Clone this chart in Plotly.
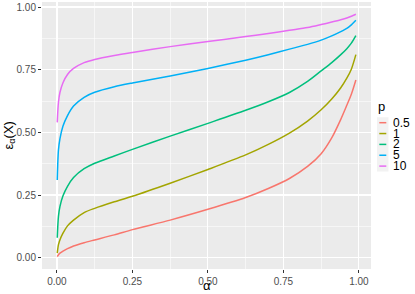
import plotly.graph_objects as go

# ---- data ----
alpha = [0.001, 0.005, 0.01, 0.02, 0.035, 0.055, 0.09, 0.125, 0.19, 0.25, 0.375,
         0.5, 0.625, 0.7, 0.77, 0.83, 0.875, 0.91, 0.94, 0.96, 0.975, 0.99]

p_labels = ["0.5", "1", "2", "5", "10"]

eps_p05 = [0.004, 0.012, 0.018, 0.026, 0.036, 0.047, 0.060, 0.071, 0.091, 0.112, 0.150,
           0.193, 0.240, 0.276, 0.316, 0.364, 0.415, 0.478, 0.552, 0.608, 0.652, 0.709]
eps_p1 = [0.018, 0.052, 0.072, 0.098, 0.127, 0.150, 0.180, 0.197, 0.223, 0.245, 0.297,
          0.352, 0.410, 0.452, 0.497, 0.545, 0.590, 0.633, 0.678, 0.716, 0.752, 0.810]
eps_p2 = [0.080, 0.165, 0.205, 0.247, 0.285, 0.320, 0.355, 0.377, 0.406, 0.432, 0.485,
          0.536, 0.588, 0.622, 0.659, 0.703, 0.745, 0.778, 0.810, 0.834, 0.856, 0.886]
eps_p5 = [0.310, 0.430, 0.475, 0.525, 0.567, 0.605, 0.640, 0.660, 0.682, 0.697, 0.725,
          0.755, 0.788, 0.810, 0.832, 0.851, 0.868, 0.885, 0.902, 0.915, 0.929, 0.947]
eps_p10 = [0.540, 0.620, 0.660, 0.698, 0.731, 0.755, 0.778, 0.791, 0.807, 0.819, 0.842,
           0.862, 0.882, 0.894, 0.907, 0.918, 0.930, 0.940, 0.949, 0.956, 0.963, 0.971]

series = [eps_p05, eps_p1, eps_p2, eps_p5, eps_p10]
colors = ["#F8766D", "#A3A500", "#00BF7D", "#00B0F6", "#E76BF3"]

tick_vals = [0, 0.25, 0.5, 0.75, 1.0]
tick_text = ["0.00", "0.25", "0.50", "0.75", "1.00"]

FONT = "Liberation Sans, Arial, sans-serif"

fig = go.Figure()
for lab, ys, col in zip(p_labels, series, colors):
    fig.add_trace(go.Scatter(
        x=alpha, y=ys, mode="lines", name=lab,
        line=dict(color=col, width=1.5, shape="spline", smoothing=0.8),
        showlegend=False, hoverinfo="skip"))

W, H = 415, 294
L, R, T, B = 42, 371, 2, 269

fig.update_layout(
    width=W, height=H,
    margin=dict(l=L, r=W - R, t=T, b=H - B, pad=0, autoexpand=False),
    paper_bgcolor="white", plot_bgcolor="#EBEBEB",
    font=dict(family=FONT, size=10, color="#4D4D4D"),
    showlegend=False,
)

axis_common = dict(
    automargin=False,
    showgrid=True, gridcolor="white", gridwidth=1.1,
    zeroline=False, showline=False,
    ticks="outside", ticklen=3, tickwidth=1, tickcolor="#333333",
    tickfont=dict(family=FONT, size=10, color="#4D4D4D"),
    tickvals=tick_vals, ticktext=tick_text,
    minor=dict(tickvals=[0.125, 0.375, 0.625, 0.875], showgrid=True,
               gridcolor="white", gridwidth=0.55, ticks=""),
)

fig.update_xaxes(range=[-0.0495, 1.0401], **axis_common)
fig.update_yaxes(range=[-0.045, 1.02], **axis_common)


def px_x(v):
    return (v - L) / (R - L)


def px_y(v):
    return (B - v) / (B - T)


# axis titles
fig.add_annotation(xref="paper", yref="paper", x=px_x(206.5), y=px_y(285.5),
                   text="α", showarrow=False, xanchor="center", yanchor="middle",
                   borderpad=0, font=dict(family=FONT, size=13, color="black"))
fig.add_annotation(xref="paper", yref="paper", x=px_x(9), y=px_y(135.5),
                   text="ε<sub>α</sub>(X)", textangle=-90, showarrow=False,
                   xanchor="center", yanchor="middle", borderpad=0,
                   font=dict(family=FONT, size=13, color="black"))

# ---- manual legend (ggplot-like compact layout) ----
key_x0, key_x1 = 377.0, 388.5
row_h = 10.85
first_row = 122.7
fig.add_shape(type="rect", xref="paper", yref="paper",
              x0=px_x(key_x0), x1=px_x(key_x1),
              y0=px_y(first_row - row_h / 2), y1=px_y(first_row + row_h * 4.5),
              fillcolor="#F2F2F2", line=dict(width=0), layer="below")
fig.add_annotation(xref="paper", yref="paper", x=px_x(376.5), y=px_y(107),
                   text="p", showarrow=False, xanchor="left", yanchor="middle",
                   borderpad=0, font=dict(family=FONT, size=13, color="black"))
for i, (lab, col) in enumerate(zip(p_labels, colors)):
    yc = first_row + i * row_h
    fig.add_shape(type="line", xref="paper", yref="paper",
                  x0=px_x(379.3), x1=px_x(386.3), y0=px_y(yc), y1=px_y(yc),
                  line=dict(color=col, width=1.5))
    fig.add_annotation(xref="paper", yref="paper", x=px_x(391.5), y=px_y(yc),
                       text=lab, showarrow=False, xanchor="left", yanchor="middle",
                       borderpad=0, font=dict(family=FONT, size=12, color="black"))

fig.write_html("out.html",
               config={"displayModeBar": False, "staticPlot": True},
               post_script="document.body.style.margin='0px';"
                           "document.body.style.overflow='hidden';")
